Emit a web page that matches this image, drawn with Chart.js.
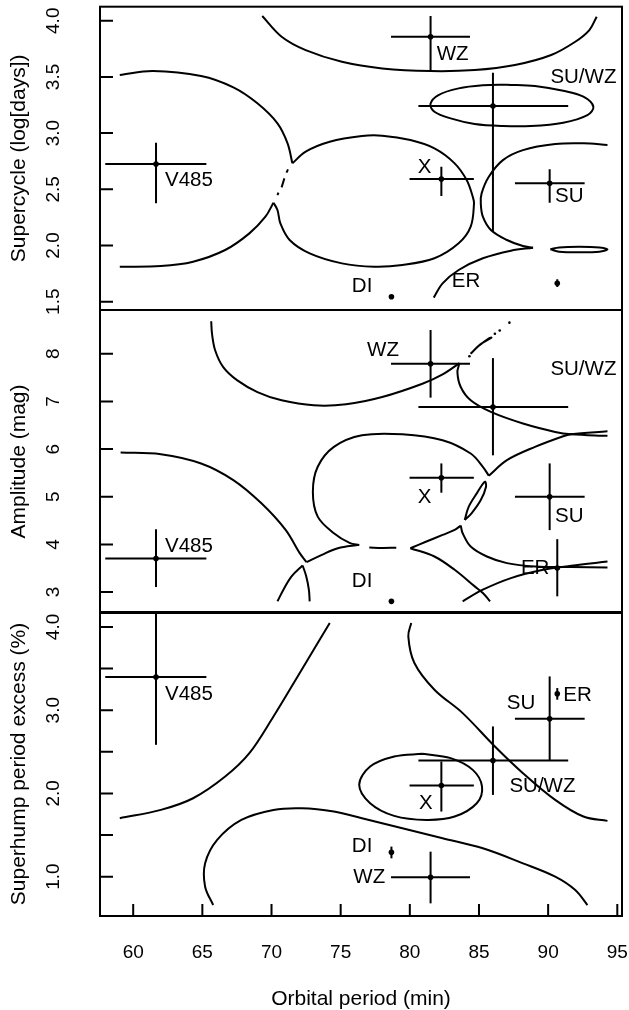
<!DOCTYPE html>
<html>
<head>
<meta charset="utf-8">
<script src="https://cdn.jsdelivr.net/npm/chart.js@4.4.1/dist/chart.umd.min.js"></script>
<style>
  body { margin: 0; background: #fff; }
  canvas { position: absolute; left: 0; }
</style>
</head>
<body>
<canvas id="supercycleChart" width="629" height="320" style="top:0px"></canvas>
<canvas id="amplitudeChart" width="629" height="323" style="top:300px"></canvas>
<canvas id="excessChart" width="629" height="408" style="top:602px"></canvas>
<script>
// object classes, same order in every array below
names = ['V485', 'WZ', 'X', 'SU/WZ', 'SU', 'DI', 'ER'];

period   = [61.65, 81.50, 82.28, 86.01, 90.11, 78.67, 90.66];
periodLo = [57.98, 78.64, 79.98, 80.62, 87.60, 78.67, 90.51];
periodHi = [65.29, 84.35, 84.63, 91.45, 92.64, 78.67, 90.81];

supercycle   = [2.725, 3.858, 2.592, 3.241, 2.553, 1.544, 1.664];
supercycleLo = [2.375, 3.546, 2.440, 2.123, 2.381, 1.544, 1.630];
supercycleHi = [2.915, 4.042, 2.701, 3.537, 2.678, 1.544, 1.700];

amplitude   = [3.704, 7.790, 5.399, 6.884, 5.000, 2.805, 3.502];
amplitudeLo = [3.105, 7.080, 5.085, 5.870, 4.300, 2.805, 2.910];
amplitudeHi = [4.318, 8.500, 5.700, 7.910, 5.700, 2.805, 4.110];

excess   = [3.398, 0.992, 2.095, 2.396, 2.897, 1.292, 3.198];
excessLo = [2.584, 0.679, 1.782, 1.982, 2.396, 1.220, 3.126];
excessHi = [4.210, 1.300, 2.383, 2.805, 3.406, 1.361, 3.266];

// where each name is written, per panel (data units)
supercycleLabels = [[64.03, 2.583], [83.09, 3.701], [81.06, 2.696], [92.55, 3.496], [91.53, 2.434], [76.55, 1.633], [84.06, 1.678]];
amplitudeLabels  = [[64.03, 3.969], [78.06, 8.070], [81.06, 4.987], [92.55, 7.665], [91.53, 4.583], [76.55, 3.223], [89.06, 3.502]];
excessLabels     = [[64.03, 3.186], [77.07, 0.992], [81.15, 1.882], [89.59, 2.091], [88.04, 3.085], [76.55, 1.369], [92.12, 3.178]];

// class boundary contours
supercycleCurves = [
  [[69.33,4.042],[70.73,3.858],[72.47,3.739],[75.09,3.635],[78.00,3.576],[81.49,3.552],[84.69,3.561],[87.60,3.606],[90.22,3.695],[91.96,3.813],[92.98,3.917],[93.51,4.036]],
  [[59.03,3.517],[61.42,3.552],[64.91,3.508],[67.24,3.407],[68.98,3.265],[70.43,3.087],[71.16,2.909],[71.51,2.731]],
  [[71.51,2.731],[72.47,2.835],[74.21,2.923],[76.54,2.974],[78.00,2.977],[80.04,2.938],[81.78,2.864],[83.24,2.731],[84.11,2.582],[84.55,2.434],[84.64,2.375],[84.40,2.167],[83.53,2.019],[81.78,1.886],[79.46,1.826],[77.42,1.811],[75.09,1.841],[72.76,1.930],[71.31,2.049],[70.64,2.197],[70.43,2.316],[70.14,2.381]],
  [[70.14,2.381],[69.56,2.256],[68.40,2.108],[66.65,1.960],[64.33,1.856],[62.00,1.817],[59.03,1.811]],
  [[94.29,2.894],[92.55,2.909],[90.51,2.903],[88.18,2.849],[86.73,2.760],[85.71,2.612],[85.19,2.464],[85.13,2.375],[85.28,2.256],[85.86,2.138],[87.02,2.049],[88.18,1.995],[88.91,1.980]],
  [[88.91,1.980],[87.31,1.954],[85.28,1.886],[83.53,1.782],[82.37,1.663],[81.73,1.536]],
  [[87.02,3.431],[89.05,3.419],[91.09,3.377],[92.55,3.324],[93.27,3.235],[92.84,3.161],[91.09,3.093],[88.76,3.063],[86.73,3.063],[84.69,3.081],[82.95,3.131],[81.78,3.190],[81.49,3.259],[82.07,3.339],[83.53,3.398],[85.28,3.425],[87.02,3.431]],
  [[90.16,1.966],[90.80,1.983],[92.25,1.989],[93.71,1.983],[94.29,1.966],[93.71,1.945],[92.25,1.939],[90.80,1.945],[90.16,1.966]],
  [[71.19,2.677],[71.08,2.648]],
  [[70.93,2.597],[70.73,2.517]],
  [[70.50,2.470],[70.43,2.449]]
];

amplitudeCurves = [
  [[65.64,8.683],[65.70,8.418],[65.93,8.070],[66.51,7.721],[67.53,7.442],[68.98,7.198],[70.73,7.024],[73.05,6.919],[75.39,6.940],[78.00,7.093],[80.91,7.372],[82.37,7.568],[83.59,7.805]],
  [[83.59,7.805],[83.44,7.616],[83.68,7.303],[84.40,7.024],[85.86,6.780],[88.18,6.536],[90.51,6.361],[91.67,6.312],[94.29,6.278]],
  [[94.29,6.375],[91.67,6.312],[91.09,6.271],[89.05,6.047],[87.02,5.768],[85.71,5.441]],
  [[85.71,5.441],[85.28,5.629],[84.40,5.908],[82.37,6.187],[79.46,6.312],[76.54,6.291],[74.51,6.047],[73.34,5.629],[72.99,5.106],[73.34,4.583],[74.51,4.234],[75.68,4.025],[76.34,3.990]],
  [[76.34,3.990],[74.80,3.920],[73.64,3.781],[72.53,3.628]],
  [[59.09,5.929],[62.00,5.894],[64.91,5.699],[67.24,5.350],[69.27,4.862],[71.02,4.304],[72.04,3.816],[72.53,3.628]],
  [[70.43,2.805],[70.86,3.049],[71.45,3.328],[72.25,3.558]],
  [[72.25,3.558],[72.50,3.340],[72.70,3.050],[72.76,2.805]],
  [[77.07,3.935],[78.00,3.925],[79.02,3.930]],
  [[80.04,3.920],[81.20,4.060],[82.37,4.199],[83.24,4.304],[83.68,4.395]],
  [[80.04,3.920],[81.78,3.746],[83.24,3.467],[84.69,3.119],[85.28,2.979],[85.80,2.805]],
  [[83.68,4.395],[83.82,4.234],[84.40,3.955],[85.57,3.746],[87.02,3.607],[89.05,3.537],[91.67,3.523],[94.29,3.516]],
  [[83.82,2.805],[85.28,3.049],[87.31,3.293],[89.64,3.467],[91.67,3.551],[94.29,3.642]],
  [[83.97,4.513],[84.26,4.792],[84.84,5.071],[85.42,5.315],[85.51,5.211],[85.13,4.932],[84.46,4.653],[83.97,4.513]],
  [[84.39,8.000],[85.10,8.200],[85.90,8.340],[85.75,8.330],[84.95,8.160],[84.39,8.000]]
];
amplitudeDots = [[84.31,7.950],[86.15,8.420],[86.50,8.490],[87.20,8.655]];

excessCurves = [
  [[59.03,1.702],[62.00,1.802],[64.33,1.942],[66.65,2.203],[68.40,2.484],[70.14,2.925],[71.89,3.406],[73.34,3.807],[74.21,4.048]],
  [[80.10,4.048],[79.89,3.888],[80.33,3.567],[81.78,3.246],[83.82,2.965],[86.15,2.564],[88.18,2.243],[90.51,1.922],[92.55,1.722],[94.29,1.670]],
  [[80.91,2.476],[82.95,2.424],[84.55,2.283],[85.22,2.083],[84.84,1.882],[83.24,1.722],[81.20,1.682],[78.87,1.730],[77.13,1.882],[76.34,2.103],[77.13,2.323],[78.87,2.444],[80.91,2.476]],
  [[65.78,0.659],[65.20,0.879],[65.20,1.160],[66.07,1.441],[67.82,1.682],[70.14,1.802],[72.18,1.822],[74.51,1.782],[76.54,1.702],[79.46,1.581],[82.37,1.461],[85.28,1.341],[88.18,1.160],[90.51,1.000],[91.96,0.839],[92.84,0.659]]
];

xTicks = [60, 65, 70, 75, 80, 85, 90, 95];
supercycleTicks = ['1.5', '2.0', '2.5', '3.0', '3.5', '4.0'];
amplitudeTicks = ['3', '4', '5', '6', '7', '8'];
excessTicks = ['1.0', '1.5', '2.0', '2.5', '3.0', '3.5', '4.0'];
excessTickLabels = ['1.0', '2.0', '3.0', '4.0'];

FONT = '"Liberation Sans", Arial, Helvetica, sans-serif';
Chart.defaults.font.family = FONT;
Chart.defaults.color = 'black';

// box, inward ticks, rotated y labels and class names
framePlugin = {
  id: 'frame',
  afterDatasetsDraw(chart, args, opts) {
    var ctx = chart.ctx, a = chart.chartArea;
    var xs = chart.scales.x, ys = chart.scales.y;
    ctx.save();
    ctx.strokeStyle = 'black';
    ctx.lineWidth = 2;
    ctx.strokeRect(a.left, a.top, a.right - a.left, a.bottom - a.top);
    ctx.beginPath();
    opts.yTicks.forEach(function(t){
      var p = ys.getPixelForValue(parseFloat(t));
      ctx.moveTo(a.left, p); ctx.lineTo(a.left + 13, p);
    });
    if (opts.xTicks) {
      opts.xTicks.forEach(function(v){
        var p = xs.getPixelForValue(v);
        ctx.moveTo(p, a.bottom); ctx.lineTo(p, a.bottom - 12);
      });
    }
    ctx.stroke();

    ctx.fillStyle = 'black';
    ctx.textAlign = 'center';
    ctx.textBaseline = 'middle';
    ctx.font = '19px ' + FONT;
    opts.yLabels.forEach(function(t){
      var p = ys.getPixelForValue(parseFloat(t));
      ctx.save();
      ctx.translate(54, p);
      ctx.rotate(-Math.PI / 2);
      ctx.fillText(t, 0, 0);
      ctx.restore();
    });

    ctx.font = '20.5px ' + FONT;
    opts.labels.forEach(function(pos, i){
      ctx.fillText(names[i], xs.getPixelForValue(pos[0]), ys.getPixelForValue(pos[1]));
    });
    ctx.restore();
  }
};

function lineSet(data, width) {
  return {
    data: data, showLine: true, borderColor: 'black', borderWidth: width,
    pointRadius: 0, tension: 0.35, clip: 0
  };
}

function buildDatasets(yVal, yLo, yHi, curves, dots) {
  var ds = [];
  for (var i = 0; i < curves.length; i++) {
    ds.push(lineSet(curves[i], 2));
  }
  for (var i = 0; i < names.length; i++) {
    if (periodLo[i] !== periodHi[i]) {
      var h = lineSet([[periodLo[i], yVal[i]], [periodHi[i], yVal[i]]], 2);
      h.tension = 0;
      ds.push(h);
    }
    if (yLo[i] !== yHi[i]) {
      var v = lineSet([[period[i], yLo[i]], [period[i], yHi[i]]], 2);
      v.tension = 0;
      ds.push(v);
    }
  }
  ds.push({
    data: period.map(function(x, i){ return [x, yVal[i]]; }),
    pointRadius: 2.8, pointBackgroundColor: 'black', pointBorderWidth: 0, clip: 0
  });
  if (dots) {
    ds.push({ data: dots, pointRadius: 1.3, pointBackgroundColor: 'black', pointBorderWidth: 0 });
  }
  return ds;
}

function makePanel(id, datasets, yMin, yMax, title, frameOpts, padding, bottomAxis) {
  var xScale = {
    type: 'linear', min: 57.6, max: 95.34, display: false,
    grid: { display: false, drawTicks: false },
    border: { display: false }
  };
  if (bottomAxis) {
    xScale.display = true;
    xScale.afterBuildTicks = function(s){ s.ticks = xTicks.map(function(v){ return {value: v}; }); };
    xScale.ticks = { font: { size: 19 }, padding: 25, maxRotation: 0 };
    xScale.title = { display: true, text: 'Orbital period (min)', font: { size: 21, lineHeight: 1 }, padding: { top: 0, bottom: 0.5 } };
    xScale.afterFit = function(s){
      s.height = 94;
      s.paddingLeft = 0;
      s.paddingRight = 0;
    };
  }
  return new Chart(document.getElementById(id), {
    type: 'scatter',
    data: { datasets: datasets },
    options: {
      responsive: false,
      animation: false,
      layout: { padding: padding },
      plugins: { legend: { display: false }, tooltip: { enabled: false }, frame: frameOpts },
      scales: {
        x: xScale,
        y: {
          type: 'linear', min: yMin, max: yMax,
          grid: { display: false, drawTicks: false },
          border: { display: false },
          ticks: { display: false },
          title: { display: true, text: title, font: { size: 21 }, padding: { top: 6.4, bottom: 0 } },
          afterFit: function(s){ s.width = 100; }
        }
      }
    },
    plugins: [framePlugin]
  });
}

charts = [];
charts.push(makePanel('supercycleChart',
  buildDatasets(supercycle, supercycleLo, supercycleHi, supercycleCurves),
  1.426, 4.125, 'Supercycle (log[days])',
  { yTicks: supercycleTicks, yLabels: supercycleTicks, labels: supercycleLabels },
  { top: 6.7, right: 7, bottom: 10, left: 0 }, false));

charts.push(makePanel('amplitudeChart',
  buildDatasets(amplitude, amplitudeLo, amplitudeHi, amplitudeCurves, amplitudeDots),
  2.56, 8.92, 'Amplitude (mag)',
  { yTicks: amplitudeTicks, yLabels: amplitudeTicks, labels: amplitudeLabels },
  { top: 10, right: 7, bottom: 10, left: 0 }, false));

charts.push(makePanel('excessChart',
  buildDatasets(excess, excessLo, excessHi, excessCurves),
  0.527, 4.18, 'Superhump period excess (%)',
  { yTicks: excessTicks, yLabels: excessTickLabels, labels: excessLabels, xTicks: xTicks },
  { top: 10, right: 7, bottom: 0, left: 0 }, true));
</script>
</body>
</html>
